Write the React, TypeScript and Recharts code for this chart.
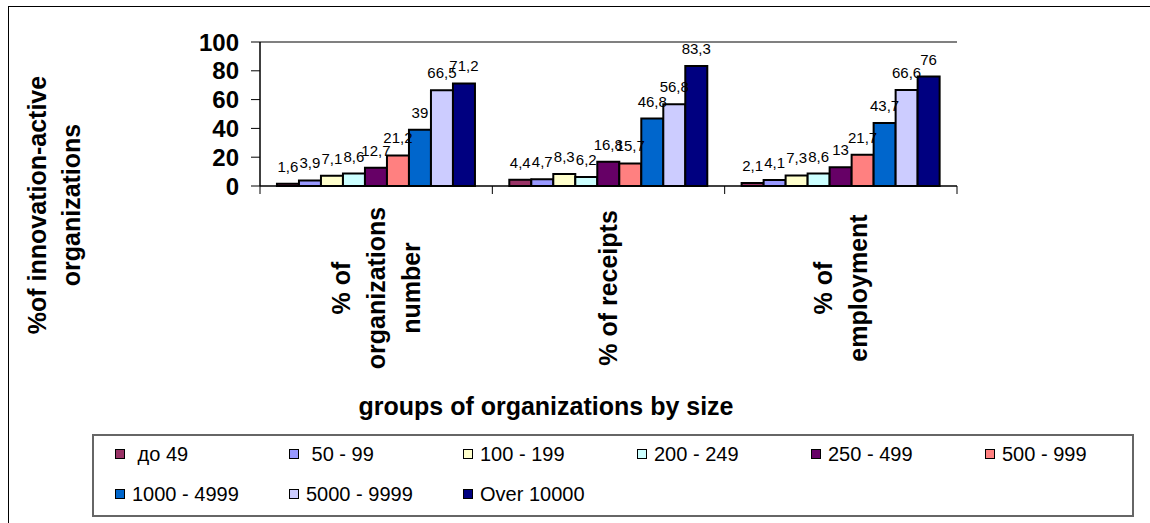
import React from 'react'
import { BarChart, Bar, XAxis, YAxis, LabelList, ReferenceLine } from 'recharts'

const categories = ['% of organizations number', '% of receipts', '% of employment']
const categoryLines = [['% of', 'organizations', 'number'], ['% of receipts'], ['% of', 'employment']]

const sizeGroups = [' до 49', ' 50 - 99', '100 - 199', '200 - 249', '250 - 499', '500 - 999', '1000 - 4999', '5000 - 9999', 'Over 10000']
const groupColors = ['#993366', '#9999FF', '#FFFFCC', '#CCFFFF', '#660066', '#FF8080', '#0066CC', '#CCCCFF', '#000080']

// one value per size group, in the order of sizeGroups
const orgNumber = [1.6, 3.9, 7.1, 8.6, 12.7, 21.2, 39, 66.5, 71.2]
const receipts = [4.4, 4.7, 8.3, 6.2, 16.8, 15.7, 46.8, 56.8, 83.3]
const employment = [2.1, 4.1, 7.3, 8.6, 13, 21.7, 43.7, 66.6, 76]

const yTicks = [0, 20, 40, 60, 80, 100]
const yTitle = ['%of innovation-active', 'organizations']
const xTitle = 'groups of organizations by size'

const valuesByCategory = [orgNumber, receipts, employment]
const data = categories.map((category, i) => {
  const row: Record<string, string | number> = { category }
  sizeGroups.forEach((_, j) => {
    row['s' + j] = valuesByCategory[i][j]
  })
  return row
})

const FONT = "Arial, 'Liberation Sans', sans-serif"

const fmt = (v: any) => String(v).replace('.', ',')

function CategoryTick(props: any) {
  const { x, y, payload, index, width, visibleTicksCount } = props
  const idx = categories.indexOf(payload.value)
  const lines = idx >= 0 ? categoryLines[idx] : [String(payload.value)]
  const count = visibleTicksCount || categories.length
  const half = payload.offset || (width ? width / (2 * count) : 0)
  const cy = y + 102
  return (
    <g>
      {half > 0 && <line x1={x - half} x2={x - half} y1={y} y2={y + 8} stroke="#000" />}
      {half > 0 && index === count - 1 && (
        <line x1={x + half} x2={x + half} y1={y} y2={y + 8} stroke="#000" />
      )}
      {lines.map((line, i) => {
        const lx = x + (i - (lines.length - 1) / 2) * 35
        return (
          <text
            key={i}
            transform={`translate(${lx},${cy}) rotate(-90)`}
            textAnchor="middle"
            dy="0.35em"
            fontSize={25}
            fontWeight="bold"
            fontFamily={FONT}
            fill="#000"
          >
            {line}
          </text>
        )
      })}
    </g>
  )
}

export default function App() {
  return (
    <div
      style={{
        position: 'fixed',
        left: 0,
        top: 0,
        width: 1150,
        height: 523,
        overflow: 'hidden',
        background: '#fff',
        fontFamily: FONT,
      }}
    >
      <div
        style={{
          position: 'absolute',
          left: 8,
          top: 6,
          width: 1200,
          height: 600,
          border: '1px solid #000',
        }}
      />
      <BarChart
        width={1150}
        height={523}
        data={data}
        margin={{ top: 42, right: 193, left: 200, bottom: 0 }}
        barCategoryGap="7.3%"
        barGap={0}
        style={{ position: 'absolute', left: 0, top: 0 }}
      >
        <XAxis
          xAxisId="cat"
          dataKey="category"
          height={337}
          interval={0}
          tickLine={false}
          tickSize={0}
          tickMargin={0}
          axisLine={{ stroke: '#000', strokeWidth: 1.5 }}
          tick={<CategoryTick />}
        />
        <YAxis
          yAxisId="left"
          domain={[0, 100]}
          ticks={yTicks}
          interval={0}
          width={60}
          tickSize={9}
          tickMargin={12}
          axisLine={{ stroke: '#000', strokeWidth: 1.5 }}
          tickLine={{ stroke: '#000' }}
          tick={{ fontSize: 24, fontWeight: 'bold', fill: '#000', fontFamily: FONT }}
        />
        <YAxis
          yAxisId="right"
          orientation="right"
          domain={[0, 100]}
          width={0}
          tick={false}
          tickLine={false}
          axisLine={{ stroke: '#808080', strokeWidth: 2 }}
        />
        <ReferenceLine xAxisId="cat" yAxisId="left" y={100} stroke="#808080" strokeWidth={2} />
        {sizeGroups.map((g, j) => (
          <Bar
            key={g}
            xAxisId="cat"
            yAxisId="left"
            dataKey={'s' + j}
            name={g}
            fill={groupColors[j]}
            stroke="#000"
            strokeWidth={2}
            isAnimationActive={false}
          >
            <LabelList
              dataKey={'s' + j}
              position="top"
              offset={12}
              formatter={fmt}
              fontSize={15}
              fill="#000"
              fontFamily={FONT}
            />
          </Bar>
        ))}
      </BarChart>

      <svg
        width={1150}
        height={523}
        style={{ position: 'absolute', left: 0, top: 0, pointerEvents: 'none' }}
      >
        {yTitle.map((line, i) => (
          <text
            key={i}
            transform={`translate(${37 + i * 34},205) rotate(-90)`}
            textAnchor="middle"
            dy="0.35em"
            fontSize={25}
            fontWeight="bold"
            fontFamily={FONT}
            fill="#000"
          >
            {line}
          </text>
        ))}
        <text x={546} y={415} textAnchor="middle" fontSize={25} fontWeight="bold" fontFamily={FONT} fill="#000">
          {xTitle}
        </text>
      </svg>

      <div
        style={{
          position: 'absolute',
          left: 92,
          top: 434,
          width: 1042,
          height: 83,
          boxSizing: 'border-box',
          border: '2px solid #666',
          background: '#fff',
        }}
      >
        {sizeGroups.map((g, j) => (
          <div
            key={g}
            style={{
              position: 'absolute',
              left: 21 + (j % 6) * 174,
              top: (j < 6 ? 18 : 58) - 12,
              height: 24,
              display: 'flex',
              alignItems: 'center',
              whiteSpace: 'pre',
              fontSize: 20,
              color: '#000',
            }}
          >
            <span
              style={{
                display: 'inline-block',
                width: 8,
                height: 8,
                border: '1.5px solid #000',
                background: groupColors[j],
                marginRight: 7,
              }}
            />
            {g}
          </div>
        ))}
      </div>
    </div>
  )
}
